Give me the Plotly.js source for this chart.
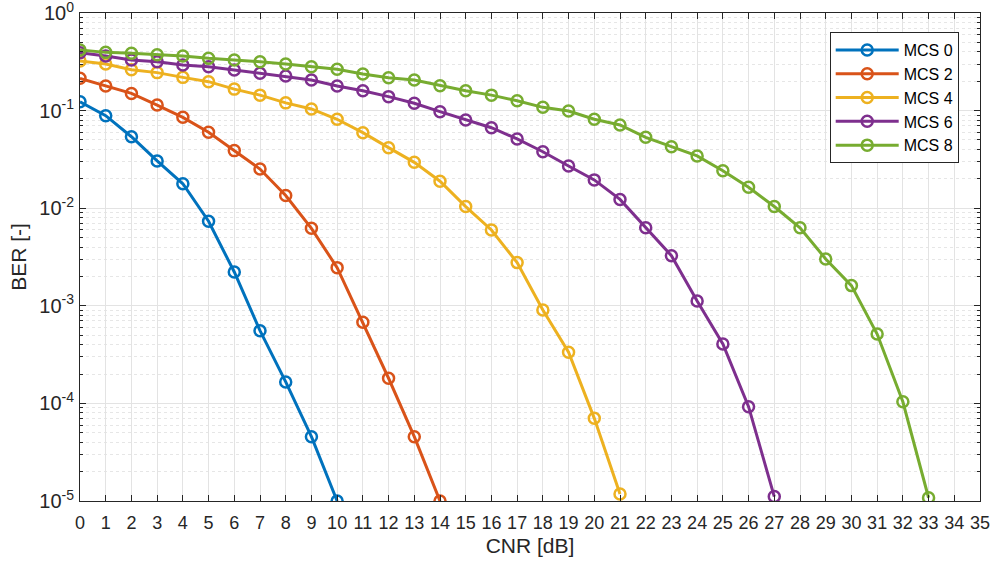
<!DOCTYPE html>
<html>
<head>
<meta charset="utf-8">
<script src="https://cdn.plot.ly/plotly-3.0.1.min.js"></script>
<style>html,body{margin:0;padding:0;background:#fff;}#chart{width:995px;height:565px;}</style>
</head>
<body>
<div id="chart"></div>
<script>
const cnr = [0,1,2,3,4,5,6,7,8,9,10,11,12,13,14,15,16,17,18,19,20,21,22,23,24,25,26,27,28,29,30,31,32,33];
const seriesNames = ["MCS 0","MCS 2","MCS 4","MCS 6","MCS 8"];
const berMCS0 = [0.123,0.0887,0.054,0.0305,0.0178,0.00735,0.00222,0.000556,0.000166,4.56e-5,1.0e-5];
const berMCS2 = [0.214,0.179,0.150,0.114,0.0853,0.060,0.0389,0.0252,0.0135,0.00622,0.00246,0.000677,0.000181,4.56e-5,1.0e-5];
const berMCS4 = [0.322,0.300,0.262,0.245,0.219,0.198,0.166,0.144,0.120,0.104,0.0815,0.0594,0.0417,0.0295,0.0189,0.0104,0.00598,0.00277,0.000905,0.000334,7.03e-5,1.18e-5];
const berMCS6 = [0.392,0.363,0.330,0.317,0.293,0.282,0.261,0.241,0.226,0.206,0.179,0.160,0.139,0.119,0.0975,0.080,0.0668,0.0512,0.0379,0.0271,0.0195,0.0123,0.0063,0.00326,0.00112,0.000406,9.25e-5,1.11e-5];
const berMCS8 = [0.418,0.395,0.386,0.374,0.363,0.343,0.330,0.317,0.300,0.282,0.265,0.237,0.217,0.206,0.180,0.160,0.144,0.126,0.108,0.099,0.0815,0.0712,0.0532,0.0427,0.0343,0.0242,0.0164,0.0104,0.0063,0.00302,0.00161,0.000514,0.000104,1.08e-5];
const colors = ["#0072BD","#D95319","#EDB120","#7E2F8E","#77AC30"];
const xTickVals = [0,1,2,3,4,5,6,7,8,9,10,11,12,13,14,15,16,17,18,19,20,21,22,23,24,25,26,27,28,29,30,31,32,33,34,35];
const yTickVals = [1e-5,1e-4,1e-3,1e-2,1e-1,1];
const yTickText = ["10<sup>-5</sup>","10<sup>-4</sup>","10<sup>-3</sup>","10<sup>-2</sup>","10<sup>-1</sup>","10<sup>0</sup>"];

const allY = [berMCS0,berMCS2,berMCS4,berMCS6,berMCS8];
const traces = allY.map((ys,i)=>({
  x: cnr.slice(0, ys.length),
  y: ys,
  name: seriesNames[i],
  type: 'scatter',
  mode: 'lines+markers',
  line: {color: colors[i], width: 3},
  marker: {symbol: 'circle-open', size: 11, color: colors[i], line: {width: 2.5, color: colors[i]}}
}));

const fontFam = 'Arial, "Liberation Sans", Helvetica, sans-serif';
const layout = {
  width: 995, height: 565,
  paper_bgcolor: '#fff', plot_bgcolor: '#fff',
  margin: {l: 80, r: 15, t: 13, b: 64},
  font: {family: fontFam, color: '#262626', size: 17},
  showlegend: true,
  legend: {
    x: 0.833, y: 0.961, xanchor: 'left', yanchor: 'top',
    bgcolor: '#fff', bordercolor: '#262626', borderwidth: 1,
    font: {family: fontFam, size: 16, color: '#000'},
    tracegroupgap: 0, itemwidth: 63
  },
  xaxis: {
    range: [0, 35], tickvals: xTickVals, ticktext: xTickVals.map(String),
    ticks: 'inside', ticklen: 6, tickcolor: '#262626', tickwidth: 1,
    showline: true, linecolor: '#262626', linewidth: 1, mirror: 'ticks',
    showgrid: true, gridcolor: '#e3e3e3', gridwidth: 1, zeroline: false,
    tickfont: {family: fontFam, size: 18, color: '#262626'}, ticklabelstandoff: 5,
    ticklabeloverflow: 'allow',
    title: {text: 'CNR [dB]', font: {size: 21, color: '#262626'}, standoff: 6}
  },
  yaxis: {
    type: 'log', range: [-5, 0], tickvals: yTickVals, ticktext: yTickText,
    ticks: 'inside', ticklen: 6, tickcolor: '#262626', tickwidth: 1,
    showline: true, linecolor: '#262626', linewidth: 1, mirror: 'ticks',
    showgrid: true, gridcolor: '#e3e3e3', gridwidth: 1, zeroline: false,
    tickfont: {family: fontFam, size: 20, color: '#262626'}, ticklabelstandoff: 1,
    ticklabeloverflow: 'allow',
    minor: {dtick: 'D1', ticks: 'inside', ticklen: 3, tickcolor: '#262626', showgrid: true, gridcolor: '#e6e6e6', griddash: 'dot', gridwidth: 1},
    title: {text: 'BER [-]', font: {size: 21, color: '#262626'}, standoff: 6}
  }
};
Plotly.newPlot('chart', traces, layout, {displayModeBar: false, staticPlot: true});
</script>
</body>
</html>
